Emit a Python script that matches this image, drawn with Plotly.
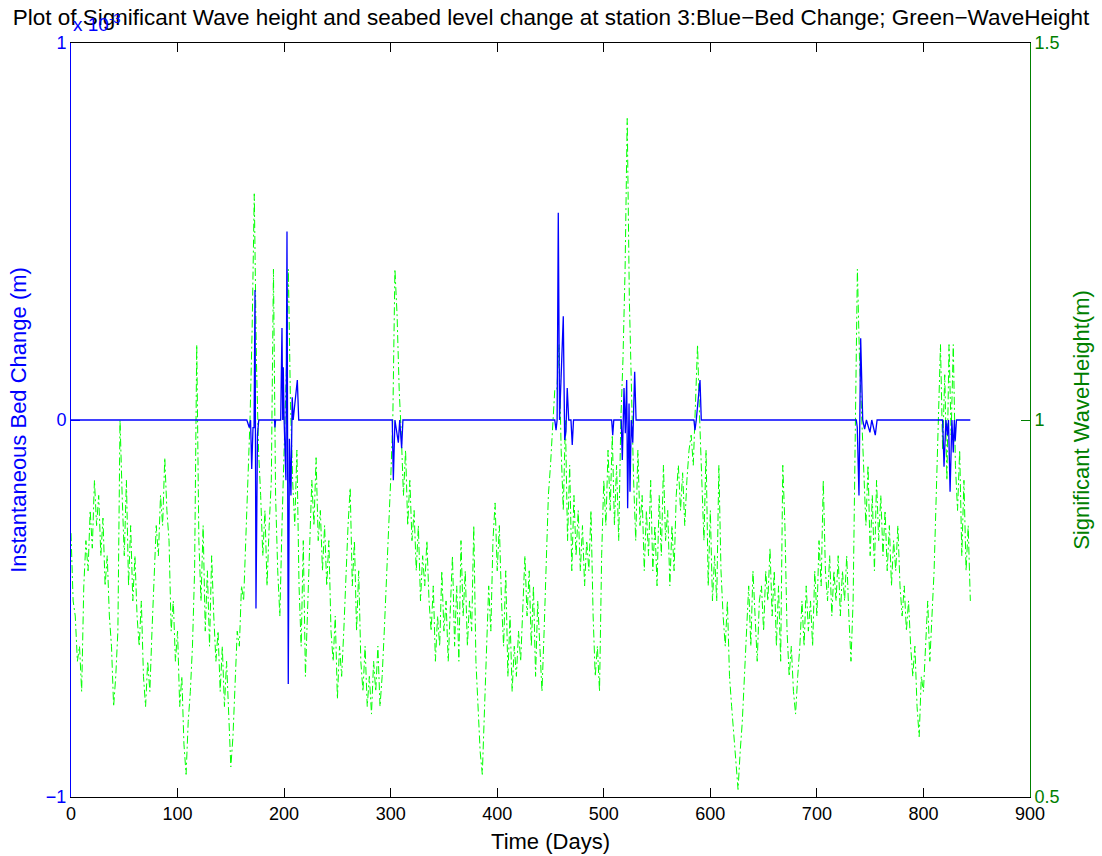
import plotly.graph_objects as go

# ---------------- data ----------------
# Significant wave height (m), sampled every 2 days from day 0 to day 844
wave_start_day = 0
wave_step_days = 2
wave_height = [
    0.85, 0.76, 0.74, 0.68, 0.70, 0.64, 0.78, 0.84, 0.80, 0.88,
    0.83, 0.92, 0.86, 0.90, 0.82, 0.87, 0.78, 0.82, 0.74, 0.70,
    0.62, 0.66, 0.72, 1.00, 0.90, 0.82, 0.92, 0.78, 0.86, 0.76,
    0.82, 0.74, 0.70, 0.76, 0.66, 0.62, 0.68, 0.64, 0.72, 0.80,
    0.86, 0.82, 0.90, 0.86, 0.95, 0.88, 0.84, 0.72, 0.76, 0.68,
    0.72, 0.62, 0.66, 0.57, 0.53, 0.60, 0.64, 0.70, 0.80, 1.10,
    0.84, 0.76, 0.86, 0.72, 0.80, 0.70, 0.82, 0.74, 0.68, 0.72,
    0.64, 0.70, 0.62, 0.68, 0.60, 0.54, 0.58, 0.66, 0.72, 0.70,
    0.78, 0.76, 0.84, 0.90, 1.00, 1.12, 1.30, 1.08, 0.96, 0.90,
    0.82, 0.88, 0.78, 0.86, 0.92, 1.20, 0.90, 0.80, 0.74, 0.86,
    0.96, 1.06, 1.20, 1.02, 0.92, 0.86, 0.96, 0.78, 0.70, 0.84,
    0.66, 0.74, 0.82, 0.92, 0.86, 0.95, 0.84, 0.88, 0.80, 0.86,
    0.78, 0.84, 0.72, 0.68, 0.74, 0.63, 0.70, 0.66, 0.72, 0.80,
    0.86, 0.91, 0.78, 0.84, 0.72, 0.80, 0.68, 0.64, 0.70, 0.62,
    0.66, 0.61, 0.68, 0.64, 0.70, 0.62, 0.66, 0.72, 0.78, 0.84,
    0.92, 1.00, 1.20, 1.14, 1.04, 0.98, 0.90, 0.96, 0.86, 0.92,
    0.84, 0.88, 0.80, 0.86, 0.76, 0.82, 0.78, 0.84, 0.76, 0.72,
    0.78, 0.68, 0.74, 0.70, 0.80, 0.72, 0.76, 0.68, 0.74, 0.82,
    0.70, 0.78, 0.68, 0.84, 0.74, 0.80, 0.70, 0.76, 0.72, 0.86,
    0.68, 0.62, 0.56, 0.53, 0.62, 0.70, 0.78, 0.72, 0.84, 0.89,
    0.80, 0.86, 0.76, 0.70, 0.80, 0.66, 0.74, 0.64, 0.70, 0.66,
    0.72, 0.68, 0.76, 0.82, 0.74, 0.80, 0.70, 0.78, 0.66, 0.76,
    0.70, 0.64, 0.72, 0.80, 0.90, 0.94, 1.00, 1.04, 1.04, 1.10,
    0.96, 0.88, 1.00, 0.84, 0.94, 0.80, 0.90, 0.82, 0.88, 0.80,
    0.86, 0.78, 0.84, 0.80, 0.88, 0.74, 0.66, 0.70, 0.64, 0.82,
    0.92, 0.86, 0.96, 0.88, 0.98, 0.86, 0.94, 0.84, 1.00, 1.08,
    1.20, 1.40, 1.16, 1.02, 0.92, 0.84, 0.96, 0.86, 0.90, 0.80,
    0.88, 0.82, 0.92, 0.80, 0.86, 0.78, 0.90, 0.82, 0.94, 0.84,
    0.88, 0.78, 0.86, 0.80, 0.90, 0.94, 0.88, 0.93, 0.86, 0.92,
    0.96, 0.98, 0.94, 1.02, 1.10, 1.00, 0.92, 0.84, 0.96, 0.78,
    0.88, 0.76, 0.82, 0.76, 0.94, 0.80, 0.74, 0.70, 0.76, 0.66,
    0.62, 0.58, 0.54, 0.51, 0.56, 0.60, 0.66, 0.72, 0.78, 0.70,
    0.80, 0.74, 0.68, 0.76, 0.78, 0.72, 0.80, 0.76, 0.83, 0.74,
    0.80, 0.70, 0.78, 0.68, 0.94, 0.86, 0.72, 0.66, 0.70, 0.64,
    0.61, 0.66, 0.70, 0.76, 0.70, 0.78, 0.72, 0.76, 0.70, 0.80,
    0.74, 0.84, 0.78, 0.92, 0.80, 0.76, 0.82, 0.74, 0.80, 0.76,
    0.82, 0.74, 0.80, 0.76, 0.82, 0.74, 0.68, 0.76, 1.00, 1.20,
    1.08, 1.00, 0.92, 0.86, 0.94, 0.82, 0.90, 0.80, 0.92, 0.84,
    0.90, 0.82, 0.88, 0.80, 0.86, 0.78, 0.84, 0.80, 0.86, 0.78,
    0.74, 0.78, 0.72, 0.76, 0.70, 0.66, 0.70, 0.62, 0.58, 0.66,
    0.64, 0.70, 0.76, 0.68, 0.74, 0.80, 0.90, 1.00, 1.10, 0.96,
    1.06, 0.92, 1.10, 0.98, 1.10, 0.94, 0.88, 0.96, 0.82, 0.92,
    0.80, 0.86, 0.76,
]
wave_days = [wave_start_day + wave_step_days * i for i in range(len(wave_height))]

# Instantaneous bed change (units of 1e-3 m)
bed_days = [
    0, 165, 167.3, 168.5, 169.6, 170.8, 171.8, 172.7, 173.6, 175.0, 176.2,
    191.0, 191.4, 192.0,
    196.8, 198.0, 198.7, 199.2, 200.0, 201.7, 202.7, 203.9, 205.0, 206.4,
    207.6, 208.5, 212.4, 213.7,
    301.5, 302.5, 304.0, 307.2, 308.5, 310.3, 311.5,
    454.0, 455.2, 456.2, 457.3, 458.5, 462.0, 463.3, 464.5, 465.7, 467.1,
    469.2, 470.4, 471.6,
    507.4, 508.4, 509.4,
    516.4, 517.4, 519.0, 520.2, 521.5, 522.4, 523.7, 524.6, 525.8, 527.2,
    529.0, 530.3,
    584.6, 585.6, 586.8, 590.3, 591.5,
    737.0, 737.9, 739.5, 741.1, 743.0, 744.8, 746.5, 749.8, 751.5, 754.8, 756.5,
    818.0, 819.3, 821.1, 822.4, 823.5, 825.0, 826.7, 828.0, 829.0, 829.8, 831.0,
    844,
]
bed_change = [
    0, 0, -0.02, 0, -0.13, -0.02, -0.02, 0.345, -0.5, -0.04, 0,
    0, -0.02, 0,
    0, 0.244, 0, 0.14, 0, -0.16, 0.5, -0.7, -0.05, -0.2,
    0.06, 0, 0.106, 0,
    0, -0.16, 0, -0.06, 0, -0.075, 0,
    0, -0.027, 0, 0.55, 0, 0.275, -0.053, -0.03, 0.085, 0,
    0, -0.066, 0,
    0, -0.04, 0,
    0, -0.106, 0.085, -0.035, 0.106, -0.234, 0.044, -0.19, 0, -0.06,
    0.128, 0,
    0, -0.027, 0, 0.106, 0,
    0, -0.02, -0.2, 0.217, 0, -0.024, 0, -0.033, 0, -0.04, 0,
    0, -0.124, 0, -0.04, 0, -0.19, 0, -0.086, 0, -0.055, 0,
    0,
]

x_ticks = [0, 100, 200, 300, 400, 500, 600, 700, 800, 900]
bed_ticks = [-1, 0, 1]
bed_tick_text = ["\u22121", "0", "1"]
wave_ticks = [0.5, 1.0, 1.5]
wave_tick_text = ["0.5", "1", "1.5"]

title_text = ("Plot of Significant Wave height and seabed level change at station 3:"
              "Blue\u2212Bed Change; Green\u2212WaveHeight")

BLUE = "#0000ff"
GREEN_LINE = "#00ff00"
GREEN_AXIS = "#008000"
FONT = "Liberation Sans, Arial, Helvetica, sans-serif"

fig = go.Figure()

# Wave height on the right axis (drawn first, underneath)
fig.add_trace(go.Scatter(
    x=wave_days, y=wave_height, mode="lines", yaxis="y",
    line=dict(color=GREEN_LINE, width=1, dash="8px,3px,2px,3px"),
    showlegend=False, hoverinfo="skip",
))
# Bed change on the left axis (overlay, on top)
fig.add_trace(go.Scatter(
    x=bed_days, y=bed_change, mode="lines", yaxis="y2",
    line=dict(color=BLUE, width=1.3),
    showlegend=False, hoverinfo="skip",
))

fig.update_layout(
    width=1102, height=856,
    margin=dict(l=71, r=72, t=43, b=59),
    paper_bgcolor="white", plot_bgcolor="white",
    font=dict(family=FONT, size=18, color="black"),
    title=dict(text=title_text, x=0.5, xanchor="center", y=1 - 17 / 856,
               yanchor="middle", font=dict(size=22.5, color="black", family=FONT)),
    xaxis=dict(
        range=[0, 900], tickvals=x_ticks, ticks="inside", ticklen=9,
        tickcolor="black", showline=True, linecolor="black", linewidth=1,
        mirror="ticks", showgrid=False, zeroline=False, automargin=False,
        tickfont=dict(size=18, color="black"),
        title=dict(text="Time (Days)", font=dict(size=22, color="black"), standoff=11),
    ),
    yaxis=dict(
        side="right", range=[0.5, 1.5], tickvals=wave_ticks, ticktext=wave_tick_text,
        ticks="inside", ticklen=9, tickcolor=GREEN_AXIS, showline=True,
        linecolor=GREEN_AXIS, linewidth=1, showgrid=False, zeroline=False,
        automargin=False,
        tickfont=dict(size=18, color=GREEN_AXIS),
        title=dict(text="Significant WaveHeight(m)", font=dict(size=22, color=GREEN_AXIS),
                   standoff=14),
    ),
    yaxis2=dict(
        overlaying="y", side="left", range=[-1, 1], tickvals=bed_ticks,
        ticktext=bed_tick_text, ticks="inside", ticklen=9, tickcolor=BLUE,
        showline=True, linecolor=BLUE, linewidth=1, showgrid=False, zeroline=False,
        automargin=False,
        tickfont=dict(size=18, color=BLUE),
        title=dict(text="Instantaneous Bed Change (m)", font=dict(size=22, color=BLUE),
                   standoff=13),
    ),
    annotations=[dict(
        text="x 10<sup>-3</sup>", xref="paper", yref="paper", x=0, y=1,
        xanchor="left", yanchor="bottom", yshift=6, showarrow=False,
        font=dict(size=19, color=BLUE, family=FONT),
    )],
)

fig.write_html("out.html")
